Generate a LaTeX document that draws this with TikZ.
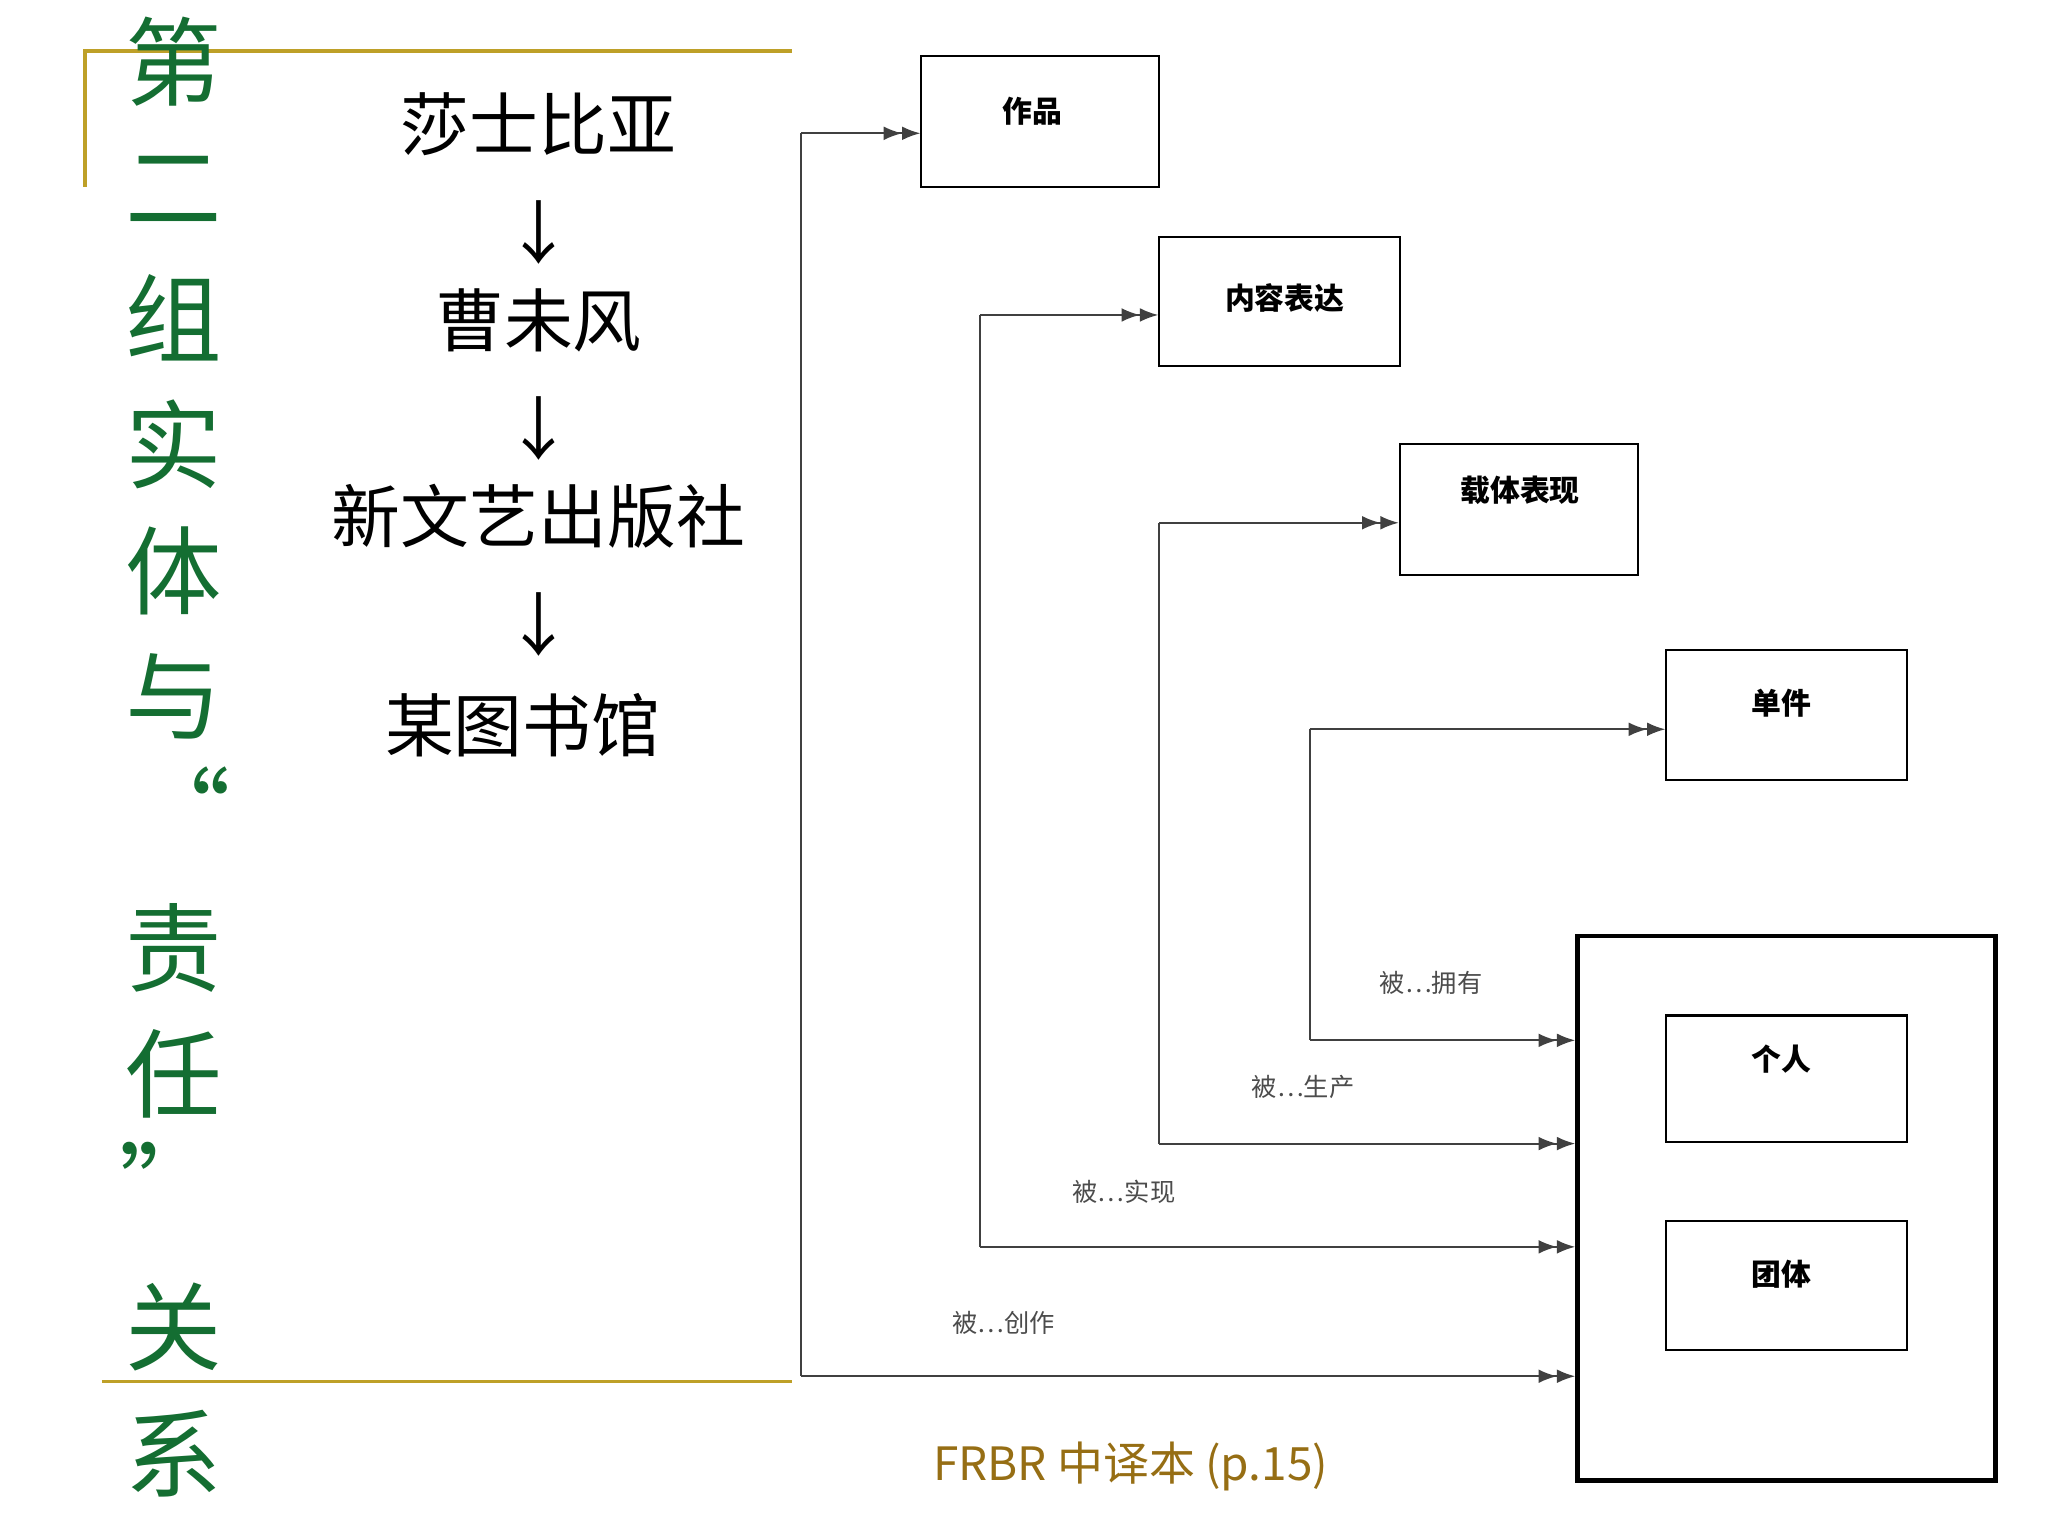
\documentclass[tikz,border=0pt]{standalone}
\usepackage{fontspec}
\setmainfont{Noto Sans CJK SC}
\newfontfamily\cjk{Noto Sans CJK SC}
\usetikzlibrary{arrows.meta}
\definecolor{gold}{RGB}{190,160,40}
\definecolor{dgreen}{RGB}{20,110,50}
\definecolor{capc}{RGB}{150,110,20}
\begin{document}
\begin{tikzpicture}[x=0.02cm,y=-0.02cm,
  box/.style={draw,line width=0.9pt,minimum width=3.64cm,minimum height=2cm,inner sep=0pt},
  blab/.style={font=\fontsize{13}{13}\selectfont\bfseries},
  vch/.style={text=dgreen,font=\fontsize{42}{42}\selectfont},
  big/.style={font=\fontsize{30}{30}\selectfont},
  lab/.style={text=black!70,font=\fontsize{11}{11}\selectfont},
  con/.style={draw=black!75,line width=0.8pt},
  arr/.style={con,-{Latex[length=8pt,width=6pt]Latex[length=8pt,width=6pt]}}]
\useasboundingbox (0,0) rectangle (1567,1175);
\fill[white] (0,0) rectangle (1567,1175);
% gold frame lines
\coordinate (g1) at (65,143); \coordinate (g2) at (65,39); \coordinate (g3) at (606,39);
\coordinate (g4) at (78,1057); \coordinate (g5) at (606,1057);
\draw[gold,line width=1.5pt] (g1) -- (g2) -- (g3);
\draw[gold,line width=1.5pt] (g4) -- (g5);
% vertical title
\foreach \c/\y in {第/47,二/145,组/243,实/340,体/437,与/533,责/725,任/822,关/1015,系/1112}
  \node[vch] at (133,\y) {\c};
\node[vch] at (140,618) {“};
\node[vch] at (128,905) {”};
% left chain
\node[big] (s1) at (412,95) {莎士比亚};
\node[big] (a1) at (412,178) {↓};
\node[big] (s2) at (412,245) {曹未风};
\node[big] (a2) at (412,328) {↓};
\node[big] (s3) at (412,395) {新文艺出版社};
\node[big] (a3) at (412,478) {↓};
\node[big] (s4) at (400,555) {某图书馆};
% boxes
\node[box,minimum width=3.64cm] (w) at (796,93) {};
\node[blab] at (790,85) {作品};
\node[box,minimum width=3.68cm,minimum height=1.98cm] (e) at (979,230.5) {};
\node[blab] at (983,228) {内容表达};
\node[box] (m) at (1162,390) {};
\node[blab] at (1163,375) {载体表现};
\node[box,minimum width=3.68cm] (i) at (1367,547) {};
\node[blab] at (1363,538) {单件};
\node[draw,line width=2pt,minimum width=6.4cm,minimum height=8.34cm,inner sep=0pt] (g) at (1367,924.5) {};
\node[box,minimum width=3.68cm,minimum height=1.94cm] (p) at (1367,825.5) {};
\node[blab] at (1363,810) {个人};
\node[box,minimum width=3.68cm,minimum height=1.98cm] (c) at (1367,983.5) {};
\node[blab] at (1363,975) {团体};
% connectors
\coordinate (v1t) at (613,102); \coordinate (v1b) at (613,1053);
\coordinate (v2t) at (750,241); \coordinate (v2b) at (750,954);
\coordinate (v3t) at (887,400); \coordinate (v3b) at (887,875);
\coordinate (v4t) at (1002,558); \coordinate (v4b) at (1002,796);
\draw[con] (v1t) -- (v1b); \draw[con] (v2t) -- (v2b);
\draw[con] (v3t) -- (v3b); \draw[con] (v4t) -- (v4b);
\draw[arr] (v1t) -- (v1t -| w.west);
\draw[arr] (v2t) -- (v2t -| e.west);
\draw[arr] (v3t) -- (v3t -| m.west);
\draw[arr] (v4t) -- (v4t -| i.west);
\draw[arr] (v4b) -- (v4b -| g.west);
\draw[arr] (v3b) -- (v3b -| g.west);
\draw[arr] (v2b) -- (v2b -| g.west);
\draw[arr] (v1b) -- (v1b -| g.west);
\node[lab] at (1095,752) {被…拥有};
\node[lab] at (997,832) {被…生产};
\node[lab] at (860,912) {被…实现};
\node[lab] at (768,1012) {被…创作};
\node[text=capc,font=\fontsize{20}{20}\selectfont] at (865,1122) {FRBR 中译本 (p.15)};
\end{tikzpicture}
\end{document}
